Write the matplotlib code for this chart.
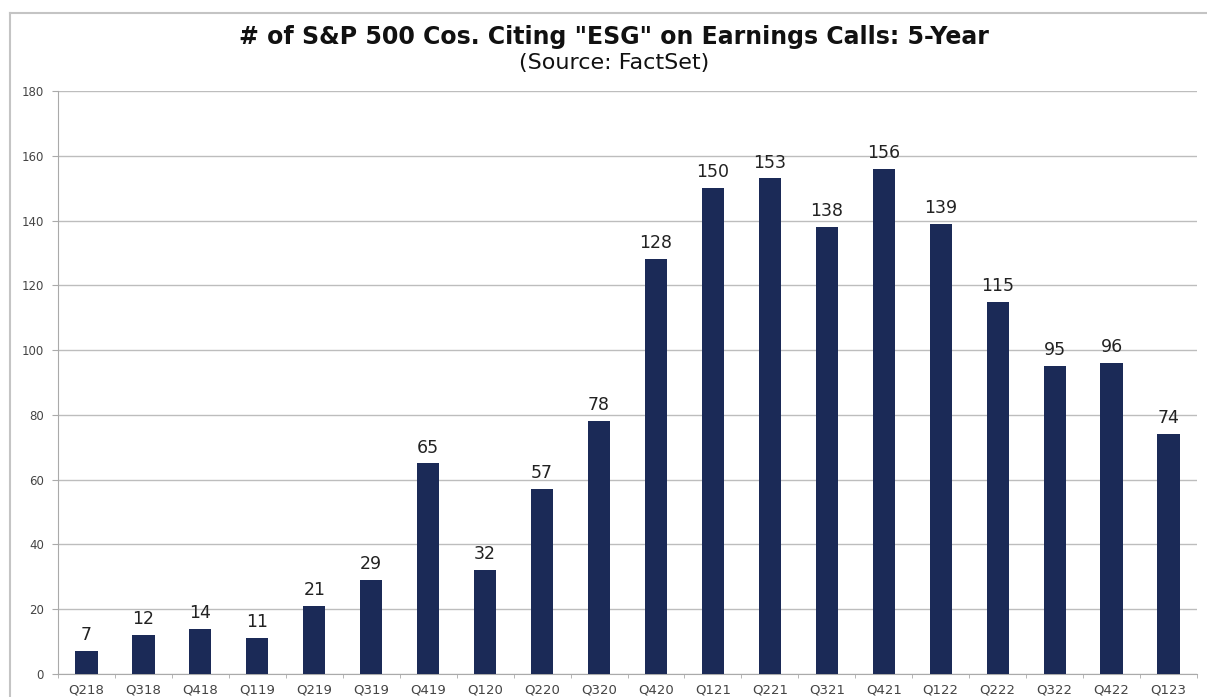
import matplotlib
matplotlib.use("Agg")
import matplotlib.pyplot as plt
from matplotlib.lines import Line2D
import numpy as np

plt.rcParams['font.family'] = ['DejaVu Sans']

quarters = ["Q218", "Q318", "Q418", "Q119", "Q219", "Q319", "Q419", "Q120", "Q220", "Q320",
            "Q420", "Q121", "Q221", "Q321", "Q421", "Q122", "Q222", "Q322", "Q422", "Q123"]
counts = [7, 12, 14, 11, 21, 29, 65, 32, 57, 78, 128, 150, 153, 138, 156, 139, 115, 95, 96, 74]
yticks = [0, 20, 40, 60, 80, 100, 120, 140, 160, 180]

title = '# of S&P 500 Cos. Citing "ESG" on Earnings Calls: 5-Year'
subtitle = "(Source: FactSet)"

W, H = 1207, 697
fig = plt.figure(figsize=(W / 100, H / 100), dpi=100)
ax = fig.add_axes([58 / W, 1 - 674 / H, (1197 - 58) / W, (674 - 91) / H])

bar_color = "#1b2a57"
x = np.arange(len(quarters))
ax.bar(x, counts, width=0.39, color=bar_color, zorder=3)

for xi, v in zip(x, counts):
    ax.annotate(str(v), (xi, v), xytext=(0, 5), textcoords="offset points",
                ha="center", va="bottom", fontsize=12.5, color="#222222")

ax.set_xlim(-0.5, len(quarters) - 0.5)
ax.set_ylim(0, 180)
ax.set_yticks(yticks)
ax.set_yticklabels([str(t) for t in yticks], fontsize=8.5, color="#444444")
ax.set_xticks(x)
ax.set_xticklabels(quarters, fontsize=9.5, color="#444444")
ax.tick_params(axis="x", length=0, pad=7)
ax.set_xticks(np.arange(-0.5, len(quarters), 1), minor=True)
ax.tick_params(axis="x", which="minor", length=3, color="#aaaaaa", direction="out")
ax.tick_params(axis="y", length=4, color="#aaaaaa", direction="out", pad=6)

ax.grid(axis="y", color="#bdbdbd", linewidth=1.0, zorder=0)
for s in ["top", "right"]:
    ax.spines[s].set_visible(False)
ax.spines["left"].set_color("#aaaaaa")
ax.spines["bottom"].set_color("#aaaaaa")

fig.text(614 / W, 1 - 37 / H, title, ha="center", va="center", fontsize=17,
         fontweight="bold", color="#111111")
fig.text(614 / W, 1 - 63 / H, subtitle, ha="center", va="center", fontsize=16,
         color="#111111")

# outer frame (left and top edges visible)
fig.add_artist(Line2D([10 / W, 10 / W], [0, 1 - 13 / H], transform=fig.transFigure,
                      color="#c4c4c4", linewidth=1.5))
fig.add_artist(Line2D([10 / W, 1], [1 - 13 / H, 1 - 13 / H], transform=fig.transFigure,
                      color="#c4c4c4", linewidth=1.5))

fig.savefig("out.png", dpi=100)
